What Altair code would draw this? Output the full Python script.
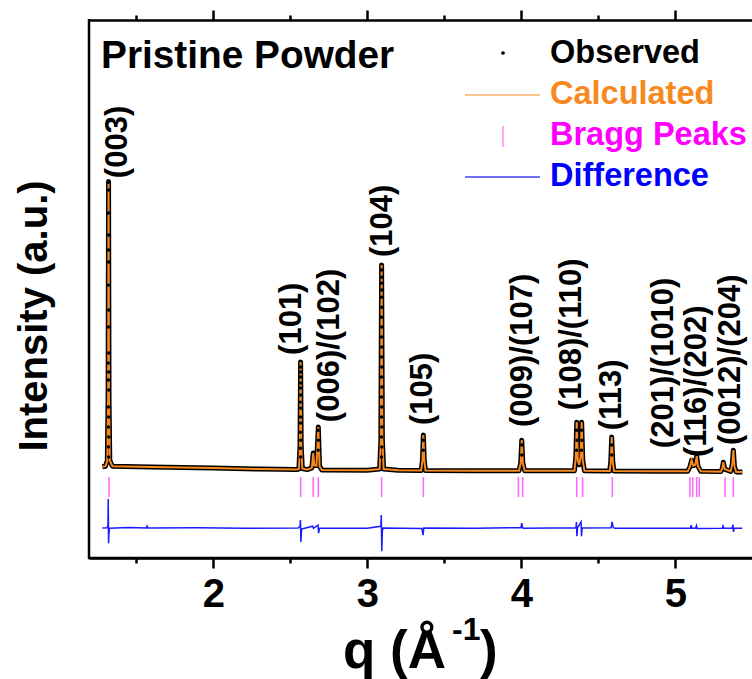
import altair as alt
import pandas as pd

FONT = "Liberation Sans"

# ---------------- data ----------------
# calculated profile (q in 1/A, intensity in a.u., baseline = 0)
calc_q = [1.280, 1.300, 1.312, 1.317, 1.320, 1.323, 1.328, 1.345,
          1.600, 2.000, 2.300, 2.540,
          2.556, 2.563, 2.567, 2.571, 2.578,
          2.610, 2.640, 2.649, 2.656, 2.670, 2.682, 2.690, 2.705,
          3.000, 3.080, 3.088, 3.093, 3.098, 3.106,
          3.200, 3.350, 3.358, 3.364, 3.370, 3.378,
          3.700, 3.985, 3.996, 4.003, 4.010, 4.022,
          4.200, 4.345, 4.354, 4.360, 4.367, 4.376, 4.385, 4.392, 4.399, 4.410,
          4.574, 4.581, 4.587, 4.594, 4.602,
          4.900, 5.080, 5.095, 5.106, 5.116, 5.130, 5.139, 5.147, 5.165,
          5.295, 5.305, 5.312, 5.320, 5.360, 5.370, 5.377, 5.384, 5.395, 5.435]
calc_I = [0.008, 0.010, 0.030, 0.250, 1.005, 0.250, 0.030, 0.010,
          0.007, 0.004, 0.000, -0.002,
          0.000, 0.080, 0.374, 0.080, 0.002,
          -0.002, 0.004, 0.056, 0.012, 0.012, 0.147, 0.010, -0.003,
          -0.004, 0.000, 0.100, 0.713, 0.100, 0.000,
          -0.004, -0.005, 0.030, 0.119, 0.030, -0.005,
          -0.006, -0.006, 0.020, 0.101, 0.020, -0.006,
          -0.006, -0.006, 0.040, 0.164, 0.030, 0.015, 0.040, 0.164, 0.030, -0.006,
          -0.007, 0.025, 0.112, 0.025, -0.007,
          -0.008, -0.008, 0.008, 0.031, 0.012, 0.015, 0.045, 0.010, -0.008,
          -0.009, 0.002, 0.024, 0.000, -0.008, 0.018, 0.066, 0.010, -0.010, -0.010]

# observed points visible on the peak flanks
obs_q = [1.319, 1.321, 1.319, 1.321, 1.319, 1.321, 1.319, 1.321, 1.319, 1.321,
         1.319, 1.321, 1.319, 1.321, 1.319, 1.321, 1.319, 1.321, 1.319, 1.321,
         2.566, 2.568, 2.566, 2.568, 2.566, 2.568, 2.566, 2.568, 2.566, 2.568,
         2.566, 2.568, 2.566, 2.568,
         2.681, 2.683, 2.681,
         3.092, 3.094, 3.092, 3.094, 3.092, 3.094, 3.092, 3.094, 3.092, 3.094,
         3.092, 3.094, 3.092, 3.094, 3.092, 3.094, 3.092, 3.094, 3.092, 3.094, 3.092,
         3.364, 3.364, 4.003, 4.003,
         4.359, 4.361, 4.359, 4.391, 4.393, 4.391,
         4.587, 4.587]
obs_I = [1.003, 0.976, 0.895, 0.818, 0.766, 0.724, 0.643, 0.556, 0.497, 0.406,
         0.371, 0.339, 0.311, 0.276, 0.217, 0.182, 0.147, 0.112, 0.077, 0.042,
         0.357, 0.339, 0.322, 0.301, 0.283, 0.259, 0.234, 0.213, 0.182, 0.161,
         0.129, 0.101, 0.073, 0.042,
         0.136, 0.101, 0.066,
         0.696, 0.671, 0.650, 0.626, 0.601, 0.566, 0.531, 0.497, 0.462, 0.427,
         0.392, 0.357, 0.322, 0.287, 0.252, 0.217, 0.182, 0.147, 0.112, 0.077, 0.042,
         0.101, 0.066, 0.084, 0.049,
         0.136, 0.101, 0.066, 0.136, 0.101, 0.066,
         0.084, 0.049]

# difference curve (offset below the pattern)
diff_q = [1.280, 1.310, 1.316, 1.318, 1.320, 1.322, 1.326, 1.450, 1.565, 1.570,
          1.575, 1.900, 2.200, 2.550, 2.563, 2.566, 2.569, 2.573, 2.600, 2.645,
          2.650, 2.680, 2.684, 2.690, 3.000, 3.088, 3.091, 3.094, 3.098, 3.103,
          3.355, 3.362, 3.367, 3.700, 3.998, 4.003, 4.008, 4.012, 4.355, 4.358,
          4.361, 4.365, 4.388, 4.391, 4.395, 4.584, 4.589, 4.597, 4.605, 4.900,
          5.098, 5.103, 5.108, 5.132, 5.137, 5.142, 5.305, 5.310, 5.315, 5.370,
          5.374, 5.378, 5.382, 5.435]
diff_I = [-0.206, -0.205, -0.200, -0.105, -0.259, -0.230, -0.207, -0.204, -0.206, -0.199,
          -0.206, -0.205, -0.207, -0.206, -0.200, -0.178, -0.255, -0.210, -0.206, -0.200,
          -0.207, -0.196, -0.224, -0.206, -0.207, -0.200, -0.161, -0.287, -0.215, -0.206,
          -0.208, -0.231, -0.206, -0.207, -0.205, -0.189, -0.204, -0.207, -0.205, -0.185,
          -0.235, -0.206, -0.185, -0.235, -0.206, -0.205, -0.185, -0.203, -0.207, -0.207,
          -0.207, -0.196, -0.207, -0.207, -0.198, -0.208, -0.207, -0.199, -0.207, -0.207,
          -0.194, -0.220, -0.207, -0.207]

# Bragg reflection positions
bragg_q = [1.323, 2.567, 2.649, 2.682, 3.093, 3.364, 3.981, 4.009, 4.360, 4.398,
           4.591, 5.095, 5.113, 5.139, 5.156, 5.323, 5.377]

# peak labels (q of label centre, intensity at label start)
label_text = ["(003)", "(101)", "(006)/(102)", "(104)", "(105)", "(009)/(107)",
              "(108)/(110)", "(113)", "(201)/(1010)", "(116)/(202)", "(0012)/(204)"]
label_q = [1.381, 2.511, 2.758, 3.102, 3.362, 4.011, 4.329, 4.589, 4.927, 5.141, 5.362]
label_I = [1.017, 0.399, 0.164, 0.741, 0.154, 0.147, 0.206, 0.136, 0.073, 0.042, 0.084]

x_ticks = [1.5, 2, 2.5, 3, 3.5, 4, 4.5, 5]
legend_labels = ["Observed", "Calculated", "Bragg Peaks", "Difference"]
legend_colors = ["#000000", "#f7891e", "#ff00ff", "#0000ff"]

# ---------------- chart ----------------
W, H = 663, 538
xs = alt.Scale(domain=[1.193, 5.498], nice=False, zero=False)
ys = alt.Scale(domain=[-0.311, 1.570], nice=False, zero=False)

calc_df = pd.DataFrame({"q": calc_q, "I": calc_I})
obs_df = pd.DataFrame({"q": obs_q, "I": obs_I})
diff_df = pd.DataFrame({"q": diff_q, "I": diff_I})
bragg_df = pd.DataFrame({"q": bragg_q})
lab_df = pd.DataFrame({"t": label_text, "q": label_q, "I": label_I})

tick_size = {"condition": {"test": "datum.value % 1 === 0", "value": 10}, "value": 5}
axis_common = dict(values=x_ticks, title=None, grid=False, domainColor="black",
                   domainWidth=2.5, tickColor="black", tickWidth=2.5, tickSize=tick_size)
x_bottom = alt.Axis(orient="bottom", labelExpr="datum.value % 1 === 0 ? format(datum.value, 'd') : ''",
                    labelFont=FONT, labelFontSize=40, labelFontWeight="bold", labelColor="black",
                    labelPadding=6, labelFlush=False, labelOverlap=False, **axis_common)
x_top = alt.Axis(orient="top", labels=False, **axis_common)

band = alt.Chart(calc_df).mark_line(color="black", strokeWidth=5, strokeJoin="round").encode(
    x=alt.X("q:Q", scale=xs, axis=x_bottom),
    y=alt.Y("I:Q", scale=ys, axis=None),
)
calc_line = alt.Chart(calc_df).mark_line(color="#f7891e", strokeWidth=2).encode(
    x=alt.X("q:Q", scale=xs, axis=None),
    y=alt.Y("I:Q", scale=ys, axis=None),
)
obs_pts = alt.Chart(obs_df).mark_circle(color="black", size=12, opacity=1).encode(
    x=alt.X("q:Q", scale=xs, axis=None),
    y=alt.Y("I:Q", scale=ys, axis=None),
)
bragg = alt.Chart(bragg_df).mark_rule(color="#ff66ff", strokeWidth=1.5).encode(
    x=alt.X("q:Q", scale=xs, axis=x_top),
    y=alt.YDatum(-0.028, scale=ys, axis=None),
    y2=alt.Y2Datum(-0.098),
)
diff_line = alt.Chart(diff_df).mark_line(color="#1a1aff", strokeWidth=1.5).encode(
    x=alt.X("q:Q", scale=xs, axis=None),
    y=alt.Y("I:Q", scale=ys, axis=None),
)
labels = alt.Chart(lab_df).mark_text(angle=270, align="left", baseline="middle", font=FONT,
                                     fontSize=31, fontWeight="bold", color="black").encode(
    x=alt.X("q:Q", scale=xs, axis=None),
    y=alt.Y("I:Q", scale=ys, axis=None),
    text="t:N",
)


def txt(s, x, y, size, color="black", angle=0, align="left", baseline="alphabetic"):
    kw = dict(font=FONT, fontSize=size, fontWeight="bold", color=color,
              align=align, baseline=baseline)
    if angle:
        kw["angle"] = angle
    return alt.Chart(pd.DataFrame({"t": [s]})).mark_text(**kw).encode(
        x=alt.value(x), y=alt.value(y), text="t:N")


df1 = pd.DataFrame({"k": [0]})
# frame lines (left and bottom; the top one is the top axis line)
frame_left = alt.Chart(df1).mark_rule(color="black", strokeWidth=2.5).encode(
    x=alt.value(0), y=alt.value(-1), y2=alt.value(H + 1))
frame_bottom = alt.Chart(df1).mark_rule(color="black", strokeWidth=2.5).encode(
    x=alt.value(-1), x2=alt.value(W), y=alt.value(H))

layers = [band, calc_line, obs_pts, bragg, diff_line, labels, frame_left, frame_bottom]

# title inside the frame
layers.append(txt("Pristine Powder", 12, 48, 38.8))

# legend
leg_base = [43, 84, 125, 166]
for lab, col, yb in zip(legend_labels, legend_colors, leg_base):
    layers.append(txt(lab, 461, yb, 32.5, color=col))
layers.append(alt.Chart(df1).mark_circle(color="black", size=14, opacity=1).encode(
    x=alt.value(414), y=alt.value(33)))
layers.append(alt.Chart(df1).mark_rule(color="#f7b06a", strokeWidth=1.5).encode(
    x=alt.value(376), x2=alt.value(451), y=alt.value(75)))
layers.append(alt.Chart(df1).mark_rule(color="#ff88ff", strokeWidth=1.5).encode(
    x=alt.value(414), y=alt.value(106), y2=alt.value(127)))
layers.append(alt.Chart(df1).mark_rule(color="#4040ff", strokeWidth=1.5).encode(
    x=alt.value(376), x2=alt.value(451), y=alt.value(157)))

# axis titles
layers.append(txt("Intensity (a.u.)", -42, 296, 40, angle=270, align="center"))
layers.append(txt("q (\u00c5", 254, 648, 53))
layers.append(txt("-1", 363, 620, 32))
layers.append(txt(")", 391, 648, 53))

chart = alt.layer(*layers).resolve_axis(x="independent").properties(
    width=W, height=H,
    padding={"left": 89, "top": 20, "right": 0, "bottom": 121},
    autosize=alt.AutoSizeParams(type="none"),
    background="white",
).configure_view(strokeWidth=0)

chart.save("out.html", embed_options={"renderer": "svg", "actions": False})
